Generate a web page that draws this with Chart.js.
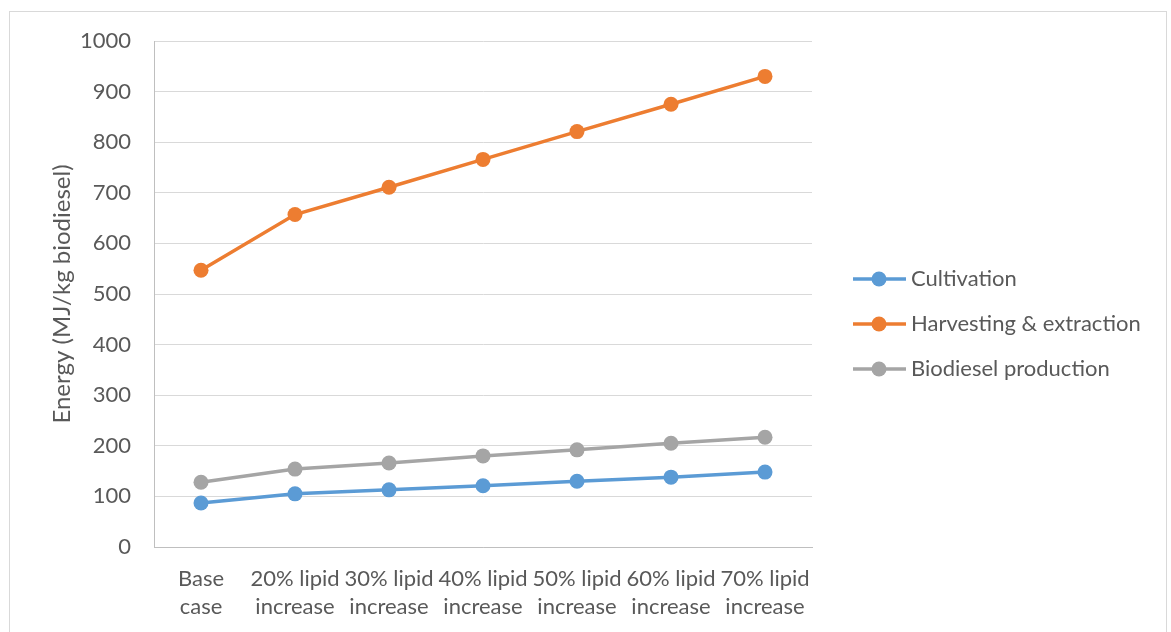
<!DOCTYPE html>
<html>
<head>
<meta charset="utf-8">
<script src="https://cdn.jsdelivr.net/npm/chart.js@4/dist/chart.umd.min.js"></script>
<style>
  html, body { margin: 0; padding: 0; background: #ffffff; }
  #wrap { width: 1171px; height: 632px; position: relative; }
</style>
</head>
<body>
<div id="wrap"><canvas id="c" width="1171" height="632"></canvas></div>
<script>
// Scenarios on the category axis (two-line labels)
const categories = [
  ['Base', 'case'],
  ['20% lipid', 'increase'],
  ['30% lipid', 'increase'],
  ['40% lipid', 'increase'],
  ['50% lipid', 'increase'],
  ['60% lipid', 'increase'],
  ['70% lipid', 'increase']
];

// Energy demand per stage, MJ/kg biodiesel
const cultivation = [87, 105, 113, 121, 130, 138, 148];
const harvestingExtraction = [547, 657, 711, 766, 821, 875, 930];
const biodieselProduction = [128, 154, 166, 180, 192, 205, 217];

const seriesNames = ['Cultivation', 'Harvesting & extraction', 'Biodiesel production'];
const seriesColors = ['#5B9BD5', '#ED7D31', '#A5A5A5'];

const yTitle = 'Energy (MJ/kg biodiesel)';

const FONT = 'Lato, "Open Sans", sans-serif';
const TEXT = '#595959';
const SIZE = 22;

function makeSet(i, data) {
  return {
    label: seriesNames[i],
    data: data,
    borderColor: seriesColors[i],
    backgroundColor: seriesColors[i],
    borderWidth: 3.5,
    pointRadius: 7.5,
    pointHoverRadius: 7.5,
    pointBorderWidth: 0,
    tension: 0
  };
}

// Legend on the right: line-with-marker swatch and series name
const sideLegend = {
  id: 'sideLegend',
  afterDraw(chart) {
    const ctx = chart.ctx;
    ctx.save();
    chart.data.datasets.forEach((ds, i) => {
      const y = 279 + 45 * i;
      ctx.strokeStyle = ds.borderColor;
      ctx.lineWidth = 3.5;
      ctx.beginPath();
      ctx.moveTo(853, y);
      ctx.lineTo(906, y);
      ctx.stroke();
      ctx.fillStyle = ds.borderColor;
      ctx.beginPath();
      ctx.arc(879, y, 7.5, 0, Math.PI * 2);
      ctx.fill();
      ctx.fillStyle = TEXT;
      ctx.font = SIZE + 'px ' + FONT;
      ctx.textAlign = 'left';
      ctx.textBaseline = 'middle';
      ctx.fillText(ds.label, 911, y);
    });
    ctx.restore();
  }
};

// Thin frame around the whole chart
const frame = {
  id: 'frame',
  beforeDraw(chart) {
    const ctx = chart.ctx;
    ctx.save();
    ctx.fillStyle = '#ffffff';
    ctx.fillRect(0, 0, chart.width, chart.height);
    ctx.strokeStyle = '#d9d9d9';
    ctx.lineWidth = 1;
    ctx.strokeRect(9.5, 11.5, 1157, 640);
    ctx.restore();
  }
};

new Chart(document.getElementById('c'), {
  type: 'line',
  data: {
    labels: categories,
    datasets: [
      makeSet(0, cultivation),
      makeSet(1, harvestingExtraction),
      makeSet(2, biodieselProduction)
    ]
  },
  plugins: [frame, sideLegend],
  options: {
    responsive: false,
    animation: false,
    devicePixelRatio: 1,
    layout: { padding: { left: 36, right: 359, top: 41, bottom: 0 } },
    plugins: {
      legend: { display: false },
      tooltip: { enabled: false }
    },
    scales: {
      x: {
        offset: true,
        grid: { display: false, drawTicks: false },
        border: { display: true, color: '#bfbfbf', width: 1 },
        ticks: {
          color: TEXT,
          font: { family: FONT, size: SIZE, lineHeight: 1.27 },
          padding: 18,
          maxRotation: 0,
          autoSkip: false
        },
        afterFit(scale) { scale.height = 85; }
      },
      y: {
        min: 0,
        max: 1000,
        grid: { color: '#d9d9d9', lineWidth: 1, drawTicks: false },
        border: { display: true, color: '#bfbfbf', width: 1 },
        ticks: {
          stepSize: 100,
          color: TEXT,
          font: { family: FONT, size: SIZE },
          padding: 23,
          callback: (v) => String(v)
        },
        title: {
          display: true,
          text: yTitle,
          color: TEXT,
          font: { family: FONT, size: 24, lineHeight: 1.2 },
          padding: { top: 12, bottom: 0 }
        },
        afterFit(scale) { scale.width = 118; }
      }
    }
  }
});
</script>
</body>
</html>
